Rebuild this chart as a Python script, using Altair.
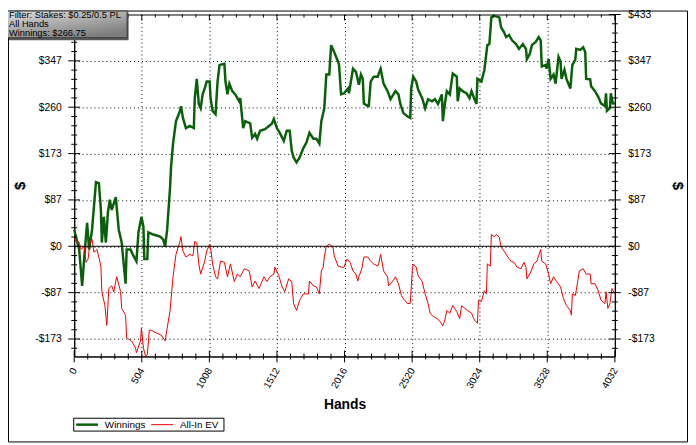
import altair as alt
import pandas as pd

W, H = 547, 346
Y_MIN, Y_MAX = -206.0, 433.33
X_MAX = 4032

# ---- data ----
hands_win = [
    0, 37, 59, 74, 96, 111, 133, 162, 184, 199,
    206, 221, 236, 251, 265, 280, 310, 332, 354, 383,
    391, 420, 442, 464, 479, 501, 516, 523, 545, 553,
    590, 641, 663, 678, 693, 715, 722, 737, 759, 789,
    796, 811, 833, 862, 892, 899, 914, 929, 943, 958,
    973, 988, 1010, 1017, 1032, 1054, 1069, 1084, 1120, 1128,
    1143, 1157, 1179, 1201, 1231, 1238, 1260, 1275, 1312, 1327,
    1349, 1364, 1386, 1423, 1452, 1474, 1489, 1511, 1533, 1563,
    1585, 1607, 1622, 1636, 1658, 1681, 1710, 1732, 1754, 1784,
    1806, 1828, 1843, 1865, 1880, 1902, 1916, 1939, 1968, 1975,
    1990, 2012, 2042, 2049, 2079, 2101, 2123, 2138, 2152, 2160,
    2189, 2197, 2211, 2233, 2263, 2285, 2307, 2337, 2359, 2396,
    2418, 2432, 2455, 2484, 2506, 2513, 2528, 2550, 2565, 2595,
    2617, 2639, 2668, 2690, 2713, 2742, 2749, 2764, 2779, 2801,
    2823, 2853, 2860, 2875, 2897, 2926, 2948, 2963, 2985, 3000,
    3007, 3037, 3059, 3081, 3096, 3111, 3133, 3170, 3184, 3206,
    3221, 3243, 3265, 3295, 3317, 3346, 3369, 3376, 3398, 3413,
    3442, 3464, 3479, 3487, 3516, 3523, 3538, 3553, 3575, 3590,
    3612, 3627, 3634, 3656, 3671, 3700, 3715, 3737, 3744, 3774,
    3796, 3811, 3818, 3848, 3855, 3884, 3907, 3929, 3958, 3966,
    3973, 3995, 4002, 4017, 4032,
]
winnings = [
    31, -6, -74, -24, 44, -6, 31, 120, 118, 68,
    7, 55, 7, 63, 87, 68, 92, 31, 7, -70,
    -6, -6, -18, -28, 26, 55, 37, -24, -24, 26,
    22, 18, 13, 0, 31, 111, 148, 192, 234, 253,
    262, 240, 221, 225, 221, 277, 313, 266, 258, 284,
    295, 308, 308, 277, 253, 247, 308, 339, 341, 308,
    284, 304, 290, 284, 271, 277, 221, 234, 230, 203,
    210, 201, 216, 219, 225, 229, 238, 221, 212, 197,
    216, 216, 179, 166, 157, 166, 184, 194, 212, 201,
    201, 192, 234, 258, 321, 321, 376, 363, 345, 339,
    284, 286, 295, 286, 332, 326, 302, 321, 313, 267,
    262, 262, 308, 317, 317, 332, 304, 290, 275, 290,
    284, 266, 249, 243, 240, 295, 317, 308, 293, 277,
    258, 275, 271, 275, 266, 284, 234, 266, 290, 284,
    323, 317, 271, 295, 290, 286, 277, 290, 275, 266,
    313, 308, 330, 376, 378, 428, 431, 428, 409, 400,
    391, 395, 385, 378, 369, 378, 369, 350, 360, 376,
    382, 391, 385, 336, 339, 332, 350, 313, 321, 304,
    354, 345, 313, 330, 313, 295, 339, 349, 369, 367,
    372, 363, 313, 312, 299, 290, 280, 267, 262, 286,
    253, 258, 286, 267, 266.75,
]
hands_ev = [
    0, 37, 52, 74, 88, 103, 118, 133, 147, 170,
    199, 206, 229, 243, 258, 280, 295, 317, 346, 354,
    383, 391, 428, 457, 464, 494, 501, 516, 531, 545,
    560, 575, 612, 649, 678, 693, 715, 737, 759, 789,
    796, 811, 833, 862, 885, 899, 914, 929, 943, 973,
    988, 1010, 1017, 1032, 1054, 1069, 1091, 1120, 1143, 1165,
    1194, 1216, 1238, 1268, 1305, 1327, 1349, 1378, 1415, 1437,
    1459, 1489, 1496, 1526, 1548, 1570, 1599, 1622, 1636, 1658,
    1681, 1710, 1747, 1754, 1784, 1806, 1828, 1843, 1857, 1865,
    1880, 1902, 1931, 1939, 1968, 1990, 2012, 2034, 2057, 2079,
    2101, 2115, 2123, 2145, 2160, 2189, 2211, 2233, 2263, 2270,
    2285, 2307, 2337, 2344, 2373, 2396, 2418, 2440, 2455, 2484,
    2506, 2521, 2528, 2550, 2565, 2595, 2617, 2639, 2654, 2676,
    2705, 2727, 2749, 2764, 2779, 2801, 2823, 2853, 2875, 2889,
    2912, 2934, 2963, 2985, 3007, 3015, 3037, 3059, 3074, 3081,
    3103, 3111, 3133, 3147, 3170, 3184, 3206, 3228, 3258, 3280,
    3302, 3332, 3354, 3369, 3376, 3405, 3427, 3450, 3479, 3487,
    3516, 3538, 3553, 3575, 3597, 3627, 3649, 3671, 3700, 3708,
    3715, 3737, 3744, 3767, 3796, 3818, 3848, 3855, 3884, 3907,
    3929, 3958, 3966, 3980, 3995, 4010, 4032,
]
allin_ev = [
    13, 7, -6, 0, -30, -24, 7, 13, -11, -6,
    -37, -85, -111, -148, -79, -74, -85, -57, -85, -116,
    -129, -171, -177, -190, -199, -177, -153, -190, -205, -203,
    -157, -157, -162, -166, -177, -153, -120, -57, -15, 9,
    18, -9, -20, -15, -18, 9, 7, -33, -52, -28,
    -9, 4, -2, -33, -57, -61, -28, -30, -57, -33,
    -66, -52, -57, -42, -46, -76, -65, -79, -57, -66,
    -57, -52, -39, -55, -74, -85, -61, -66, -107, -120,
    -101, -89, -89, -65, -74, -76, -89, -46, -39, -20,
    0, 4, -2, -18, -37, -39, -39, -24, -30, -46,
    -52, -65, -57, -42, -20, -20, -28, -33, -37, -33,
    -15, -46, -57, -74, -66, -57, -70, -92, -98, -107,
    -107, -46, -33, -39, -55, -66, -89, -107, -125, -131,
    -135, -140, -149, -138, -120, -125, -111, -122, -135, -111,
    -116, -120, -125, -138, -144, -101, -103, -83, -89, -33,
    -37, 22, 18, 22, 17, -2, -9, -18, -28, -30,
    -39, -42, -30, -39, -61, -48, -33, -28, -6, -28,
    -33, -52, -70, -57, -66, -76, -98, -111, -120, -129,
    -89, -92, -83, -46, -42, -52, -52, -70, -70, -83,
    -101, -107, -85, -116, -107, -79, -89,
]

series_names = ["Winnings", "All-In EV"]
series_colors = ["#0a600a", "#ee0000"]
series_widths = [2.5, 1.0]

x_major = [0, 504, 1008, 1512, 2016, 2520, 3024, 3528, 4032]
y_major = [-173.33, -86.67, 0, 86.67, 173.33, 260, 346.67, 433.33]
x_minor = [k * 100.8 for k in range(41) if k % 5]
y_minor = [k * 86.6667 / 5 for k in range(-11, 25) if k % 5]

info_lines = ["Filter: Stakes: $0.25/0.5 PL", "All Hands", "Winnings: $266.75"]
x_title = "Hands"
y_title = "$"

FONT = "Liberation Sans"

df_win = pd.DataFrame({"hands": hands_win, "value": winnings})
df_ev = pd.DataFrame({"hands": hands_ev, "value": allin_ev})

xsc = alt.Scale(domain=[0, X_MAX], nice=False, zero=False)
ysc = alt.Scale(domain=[Y_MIN, Y_MAX], nice=False, zero=False)

dollar_expr = "(datum.value < -0.5 ? '-$' : '$') + format(abs(datum.value), '.0f')"

# the top-left label of the left axis is hidden by the info box in the original
left_axis = alt.Axis(
    orient="left", values=y_major[:-1], labelExpr=dollar_expr, ticks=False,
    domainColor="black", grid=True, gridColor="black", gridDash=[1, 3],
    gridOpacity=1, labelFont=FONT, labelFontSize=10.5, labelColor="black",
    labelPadding=13, labelOverlap=False, labelBound=False,
    title=y_title, titleFont=FONT, titleFontSize=15, titleFontWeight="bold",
    titleColor="black", titleAngle=270, titleX=-55, titleY=H / 2,
    titleAlign="center", titleBaseline="middle", zindex=0,
)
right_axis = alt.Axis(
    orient="right", values=y_major, labelExpr=dollar_expr, ticks=False,
    domainColor="black", grid=False, labelFont=FONT, labelFontSize=10.5,
    labelColor="black", labelPadding=13, labelOverlap=False, labelBound=False,
    title=y_title, titleFont=FONT, titleFontSize=15, titleFontWeight="bold",
    titleColor="black", titleAngle=90, titleX=63, titleY=H / 2,
    titleAlign="center", titleBaseline="middle", zindex=0,
)
bottom_axis = alt.Axis(
    orient="bottom", values=x_major, format="d", ticks=False,
    domainColor="black", grid=True, gridColor="black", gridDash=[1, 3],
    gridOpacity=1, labelFont=FONT, labelFontSize=10, labelColor="black",
    labelAngle=300, labelAlign="right", labelBaseline="middle",
    labelPadding=12, labelFlush=False, labelOverlap=False, labelBound=False,
    title=x_title, titleFont=FONT, titleFontSize=14, titleFontWeight="bold",
    titleColor="black", titleX=W / 2, titleY=49, titleAlign="center",
    titleBaseline="middle", zindex=0,
)

win_line = alt.Chart(df_win).mark_line(
    color=series_colors[0], strokeWidth=series_widths[0]
).encode(
    x=alt.X("hands:Q", scale=xsc, axis=bottom_axis),
    y=alt.Y("value:Q", scale=ysc, axis=left_axis),
)
ev_line = alt.Chart(df_ev).mark_line(
    color=series_colors[1], strokeWidth=series_widths[1]
).encode(
    x=alt.X("hands:Q", scale=xsc, axis=None),
    y=alt.Y("value:Q", scale=ysc, axis=None),
)
zero_line = alt.Chart(pd.DataFrame({"v": [0]})).mark_rule(
    color="black", strokeWidth=1
).encode(y=alt.Y("v:Q", scale=ysc, axis=None))


def yticks(vals, x0, x1, axis=None):
    return alt.Chart(pd.DataFrame({"v": vals})).mark_rule(
        color="black", strokeWidth=1
    ).encode(
        y=alt.Y("v:Q", scale=ysc, axis=axis),
        x=alt.value(x0), x2=alt.value(x1),
    )


def xticks(vals, y0, y1):
    return alt.Chart(pd.DataFrame({"v": vals})).mark_rule(
        color="black", strokeWidth=1
    ).encode(
        x=alt.X("v:Q", scale=xsc, axis=None),
        y=alt.value(y0), y2=alt.value(y1),
    )


tick_layers = [
    yticks(y_major, -6, 6),
    yticks(y_minor, -3, 3),
    yticks(y_major, W - 6, W + 6, axis=right_axis),
    yticks(y_minor, W - 3, W + 3),
    xticks(x_major, H - 6, H + 6),
    xticks(x_minor, H - 3, H + 3),
    xticks(x_major, 0, 6),
    xticks(x_minor, 0, 3),
]

one = pd.DataFrame({"a": [0]})

frame = alt.Chart(one).mark_rect(
    fillOpacity=0, stroke="black", strokeWidth=1
).encode(
    x=alt.value(-66.5), x2=alt.value(620.5),
    y=alt.value(-3.5), y2=alt.value(432.5),
)

box_shadow = alt.Chart(one).mark_rect(color="#5a5a5a").encode(
    x=alt.value(-66), x2=alt.value(55), y=alt.value(-2), y2=alt.value(26),
)
box = alt.Chart(one).mark_rect(
    fill=alt.Gradient(
        gradient="linear",
        stops=[alt.GradientStop(color="#dedede", offset=0),
               alt.GradientStop(color="#7e7e7e", offset=1)],
        x1=0, y1=0, x2=0.6, y2=1,
    ),
    stroke="#3a3a3a", strokeWidth=1,
).encode(
    x=alt.value(-67.5), x2=alt.value(53.5), y=alt.value(-3.5), y2=alt.value(23.5),
)
box_text = alt.Chart(one).mark_text(
    align="left", baseline="top", font=FONT, fontSize=9.4,
    lineHeight=9, lineBreak="\n", color="black",
).encode(
    x=alt.value(-66), y=alt.value(-3),
    text=alt.value("\n".join(info_lines)),
)

legend_box = alt.Chart(one).mark_rect(
    fill="white", stroke="black", strokeWidth=1
).encode(
    x=alt.value(-0.5), x2=alt.value(151.5), y=alt.value(408.5), y2=alt.value(421.5),
)
legend_layers = [legend_box]
entry_x = [2, 78]
for name, col, sw, ex in zip(series_names, series_colors, series_widths, entry_x):
    legend_layers.append(
        alt.Chart(one).mark_rule(color=col, strokeWidth=sw).encode(
            x=alt.value(ex), x2=alt.value(ex + 22), y=alt.value(415)
        )
    )
    legend_layers.append(
        alt.Chart(one).mark_text(
            align="left", baseline="middle", font=FONT, fontSize=10, color="black"
        ).encode(x=alt.value(ex + 29), y=alt.value(415), text=alt.value(name))
    )

chart = alt.layer(
    win_line, ev_line, zero_line, *tick_layers, frame,
    box_shadow, box, box_text, *legend_layers,
).resolve_scale(x="independent", y="independent").properties(
    width=W, height=H,
    autosize=alt.AutoSizeParams(type="none"),
    padding={"left": 67, "top": 4, "right": 74, "bottom": 87},
    background="white",
).configure_view(stroke="black", strokeWidth=1)

chart.save("out.html", embed_options={"renderer": "svg", "actions": False})
